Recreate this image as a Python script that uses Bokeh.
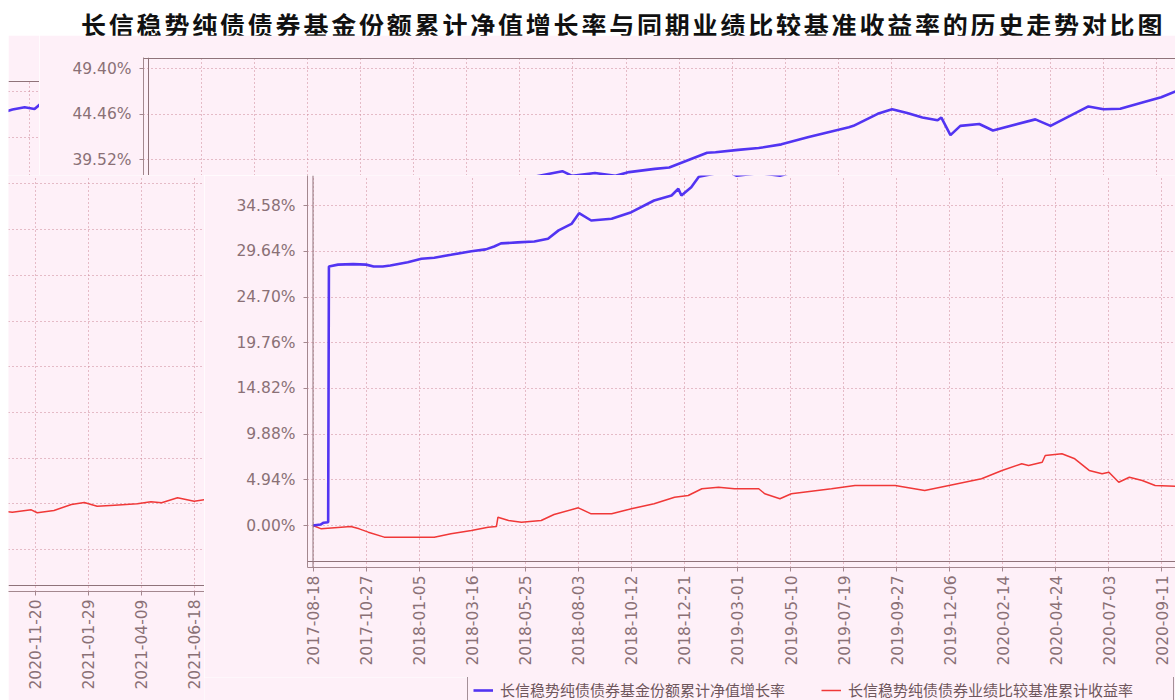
import math
import pandas as pd
from bokeh.plotting import figure
from bokeh.models import (Range1d, FixedTicker, PrintfTickFormatter, DatetimeTickFormatter,
                          Span, Legend, LegendItem, Div, Spacer)
from bokeh.layouts import column, row
from bokeh.embed import file_html
from bokeh.resources import INLINE

# ---------------- data ----------------
title_text = "长信稳势纯债债券基金份额累计净值增长率与同期业绩比较基准收益率的历史走势对比图"
fund_label = "长信稳势纯债债券基金份额累计净值增长率"
bench_label = "长信稳势纯债债券业绩比较基准累计收益率"

fund_dates = [
    "2017-08-18", "2017-08-28", "2017-09-01", "2017-09-07", "2017-09-08", "2017-09-20",
    "2017-10-10", "2017-10-27", "2017-11-06", "2017-11-18", "2017-11-28", "2017-12-21",
    "2018-01-08", "2018-01-25", "2018-02-16", "2018-03-15", "2018-04-03", "2018-04-14",
    "2018-04-23", "2018-05-15", "2018-06-06", "2018-06-24", "2018-07-08", "2018-07-25",
    "2018-08-04", "2018-08-20", "2018-09-16", "2018-10-12", "2018-11-11", "2018-12-04",
    "2018-12-13", "2018-12-17", "2018-12-30", "2019-01-09", "2019-02-15", "2019-02-28",
    "2019-03-30", "2019-04-26", "2019-05-14", "2019-06-17", "2019-07-06", "2019-08-25",
    "2019-09-05", "2019-10-05", "2019-11-01", "2019-12-01", "2020-01-06", "2020-02-28",
    "2020-03-05", "2020-04-06", "2020-04-25", "2020-05-15", "2020-06-04", "2020-06-24",
    "2020-06-29", "2020-07-11", "2020-07-24", "2020-08-18", "2020-09-05", "2020-10-31",
    "2020-11-20", "2021-01-09", "2021-01-29", "2021-02-20", "2021-03-20", "2021-04-15",
    "2021-05-03", "2021-05-27", "2021-06-12", "2021-06-25", "2021-07-02",
]
fund_values = [
    0.00, 0.10, 0.30, 0.35, 28.00, 28.20,
    28.25, 28.20, 28.00, 28.00, 28.10, 28.46,
    28.83, 28.95, 29.26, 29.65, 29.85, 30.16,
    30.50, 30.60, 30.70, 31.00, 31.90, 32.60,
    33.76, 32.97, 33.15, 33.87, 35.13, 35.67,
    36.40, 35.67, 36.57, 37.70, 38.30, 37.80,
    38.10, 37.80, 38.20, 38.55, 38.70, 40.30,
    40.35, 40.60, 40.80, 41.20, 42.00, 43.05,
    43.20, 44.50, 45.00, 44.60, 44.10, 43.80,
    44.10, 42.20, 43.20, 43.40, 42.70, 43.90,
    43.20, 45.30, 45.00, 45.05, 45.70, 46.30,
    46.90, 47.45, 47.70, 47.50, 48.00,
]

bench_dates = [
    "2017-08-18", "2017-08-29", "2017-10-07", "2017-10-18", "2017-10-30", "2017-11-20",
    "2017-12-12", "2018-01-25", "2018-02-16", "2018-03-15", "2018-04-06", "2018-04-17",
    "2018-04-19", "2018-05-03", "2018-05-20", "2018-06-15", "2018-07-02", "2018-08-03",
    "2018-08-20", "2018-09-16", "2018-10-12", "2018-11-11", "2018-12-08", "2018-12-26",
    "2019-01-13", "2019-02-04", "2019-02-25", "2019-03-29", "2019-04-06", "2019-04-26",
    "2019-05-11", "2019-07-03", "2019-08-03", "2019-09-25", "2019-11-03", "2019-12-05",
    "2020-01-17", "2020-02-13", "2020-03-10", "2020-03-19", "2020-04-06", "2020-04-10",
    "2020-05-02", "2020-05-19", "2020-06-07", "2020-06-24", "2020-07-03", "2020-07-16",
    "2020-07-30", "2020-08-16", "2020-09-02", "2020-10-01", "2020-10-21", "2020-11-15",
    "2020-11-23", "2020-12-15", "2021-01-07", "2021-01-24", "2021-02-10", "2021-03-05",
    "2021-04-04", "2021-04-22", "2021-05-06", "2021-05-27", "2021-06-18", "2021-07-02",
]
bench_values = [
    0.00, -0.36, -0.10, -0.36, -0.72, -1.26,
    -1.26, -1.26, -0.90, -0.54, -0.18, -0.10,
    0.90, 0.54, 0.36, 0.54, 1.19, 1.91,
    1.26, 1.26, 1.80, 2.35, 3.06, 3.24,
    3.97, 4.14, 3.97, 3.97, 3.43, 2.89,
    3.43, 3.97, 4.32, 4.32, 3.78, 4.32,
    5.05, 5.95, 6.67, 6.49, 6.84, 7.57,
    7.75, 7.21, 5.95, 5.59, 5.76, 4.68,
    5.22, 4.86, 4.32, 4.22, 4.03, 4.29,
    3.97, 4.22, 4.86, 5.08, 4.68, 4.79,
    4.94, 5.16, 5.05, 5.59, 5.22, 5.40,
]

x_tick_dates = [
    "2017-08-18", "2017-10-27", "2018-01-05", "2018-03-16", "2018-05-25", "2018-08-03",
    "2018-10-12", "2018-12-21", "2019-03-01", "2019-05-10", "2019-07-19", "2019-09-27",
    "2019-12-06", "2020-02-14", "2020-04-24", "2020-07-03", "2020-09-11", "2020-11-20",
    "2021-01-29", "2021-04-09", "2021-06-18",
]
y_tick_values = [0.00, 4.94, 9.88, 14.82, 19.76, 24.70, 29.64, 34.58, 39.52, 44.46, 49.40]

# ---------------- styles / geometry ----------------
BG = "#fef0f8"
GRID = "#cc8696"
AXIS = "#a4888f"
FRAME = "#8f737a"
LABEL = "#8a7076"
BLUE = "#5234f2"
RED = "#f03838"
TICK_FONT = "DejaVu Sans"

PX_PER_DAY = 0.758
PX_PER_PCT = 45.7 / 4.94
X_ORIGIN = 312.5
Y_ORIGIN = 525.0
DAY_MS = 86400000.0

fund_x = pd.to_datetime(fund_dates)
bench_x = pd.to_datetime(bench_dates)
first_ms = pd.Timestamp(fund_dates[0]).value / 1e6
last_ms = pd.Timestamp(fund_dates[-1]).value / 1e6
tick_ms = [pd.Timestamp(d).value / 1e6 for d in x_tick_dates]

frame_top_value = (Y_ORIGIN - 58) / PX_PER_PCT
frame_bottom_value = (Y_ORIGIN - 561) / PX_PER_PCT

date_fmt = "%Y-%m-%d"


def base_fig(w, h, xr, yr, borders, x_axis=False, y_axis=False):
    bl, br, bt, bb = borders
    p = figure(width=w, height=h, x_axis_type="datetime", title=None,
               x_range=xr, y_range=yr,
               x_axis_location="below" if x_axis else None,
               y_axis_location="left" if y_axis else None,
               output_backend="svg", toolbar_location=None,
               min_border_left=bl, min_border_right=br,
               min_border_top=bt, min_border_bottom=bb)
    p.frame_align = False
    p.background_fill_color = BG
    p.border_fill_color = BG
    p.outline_line_color = None
    return p


def piece(fig_x, fig_y, w, h, fl, ft, fr, fb, dx, dy, x_axis=False, y_axis=False, spans=()):
    d0 = (fl + dx - X_ORIGIN) / PX_PER_DAY
    d1 = (fr + dx - X_ORIGIN) / PX_PER_DAY
    v_top = (Y_ORIGIN + dy - ft) / PX_PER_PCT
    v_bot = (Y_ORIGIN + dy - fb) / PX_PER_PCT
    p = base_fig(w, h,
                 Range1d(first_ms + d0 * DAY_MS, first_ms + d1 * DAY_MS),
                 Range1d(v_bot, v_top),
                 (fl - fig_x, fig_x + w - fr, ft - fig_y, fig_y + h - fb),
                 x_axis=x_axis, y_axis=y_axis)

    p.xgrid.ticker = FixedTicker(ticks=tick_ms)
    p.ygrid.ticker = FixedTicker(ticks=y_tick_values)
    for g in (p.xgrid, p.ygrid):
        g.grid_line_color = GRID
        g.grid_line_dash = "1 3"
        g.grid_line_width = 1

    if x_axis:
        ax = p.xaxis[0]
        ax.ticker = FixedTicker(ticks=tick_ms)
        ax.formatter = DatetimeTickFormatter(
            milliseconds=date_fmt, seconds=date_fmt, minsec=date_fmt, minutes=date_fmt,
            hourmin=date_fmt, hours=date_fmt, days=date_fmt, months=date_fmt, years=date_fmt)
        ax.major_label_orientation = math.pi / 2
        ax.major_label_standoff = 4
    if y_axis:
        ax = p.yaxis[0]
        ax.ticker = FixedTicker(ticks=y_tick_values)
        ax.formatter = PrintfTickFormatter(format="%.2f%%")
        ax.major_label_standoff = 8
    for ax in list(p.xaxis) + list(p.yaxis):
        ax.axis_line_color = AXIS
        ax.major_tick_line_color = AXIS
        ax.major_tick_out = 4
        ax.major_tick_in = 0
        ax.minor_tick_line_color = None
        ax.major_label_text_font = TICK_FONT
        ax.major_label_text_font_size = "15.5px"
        ax.major_label_text_color = LABEL

    for loc, dim in spans:
        p.add_layout(Span(location=loc, dimension=dim, line_color=FRAME, line_width=1))

    r_bench = p.line(bench_x, bench_values, line_color=RED, line_width=1.5)
    r_fund = p.line(fund_x, fund_values, line_color=BLUE, line_width=2.6)
    return p, r_fund, r_bench


frag, _, _ = piece(8, 35, 31, 140, fl=8, ft=80, fr=39, fb=175, dx=1345, dy=23,
                   spans=[(last_ms, "height"), (frame_top_value, "width")])
top, _, _ = piece(39, 35, 1136, 140, fl=143, ft=57, fr=1175, fb=175, dx=164.5, dy=0,
                  y_axis=True, spans=[(first_ms, "height"), (frame_top_value, "width")])
left, _, _ = piece(8, 175, 196, 525, fl=8, ft=175, fr=204, fb=591, dx=1180, dy=24,
                   x_axis=True, spans=[(last_ms, "height"), (frame_bottom_value, "width")])
main, _, _ = piece(204, 175, 971, 502, fl=307, ft=175, fr=1175, fb=567, dx=0, dy=0,
                   x_axis=True, y_axis=True,
                   spans=[(first_ms, "height"), (frame_bottom_value, "width")])

# legend strip under the main piece (its lines lie outside the visible y range)
leg_fig = base_fig(971, 23, Range1d(first_ms, last_ms), Range1d(-200, -190), (0, 0, 0, 0))
leg_fig.xgrid.visible = False
leg_fig.ygrid.visible = False
lr_fund = leg_fig.line(fund_x, fund_values, line_color=BLUE, line_width=2.6)
lr_bench = leg_fig.line(bench_x, bench_values, line_color=RED, line_width=1.5)
legend = Legend(items=[LegendItem(label=fund_label, renderers=[lr_fund]),
                       LegendItem(label=bench_label, renderers=[lr_bench])],
                orientation="horizontal", location=(467 - 204, -6),
                label_text_font="Noto Sans CJK SC", label_text_font_size="15px",
                label_text_color="#6e565c", border_line_color="#4a3038",
                border_line_width=1, background_fill_color=BG, background_fill_alpha=1,
                glyph_width=20, glyph_height=14, label_standoff=7, spacing=1,
                label_width=320, padding=5, margin=0)
leg_fig.add_layout(legend)

title = Div(
    text=('<div style="position:relative; top:7px; padding-left:73px; '
          'font-family:\'Noto Sans CJK SC\', sans-serif; '
          'font-size:25px; font-weight:bold; color:#111; letter-spacing:2.8px; '
          'line-height:35px; white-space:nowrap;">' + title_text + '</div>'),
    width=1167, height=35, margin=0, styles={"background-color": "white"})

layout = row(Spacer(width=8, height=700),
             column(title, row(frag, top), row(left, column(main, leg_fig))))

open("out.html", "w").write(file_html(layout, INLINE))
